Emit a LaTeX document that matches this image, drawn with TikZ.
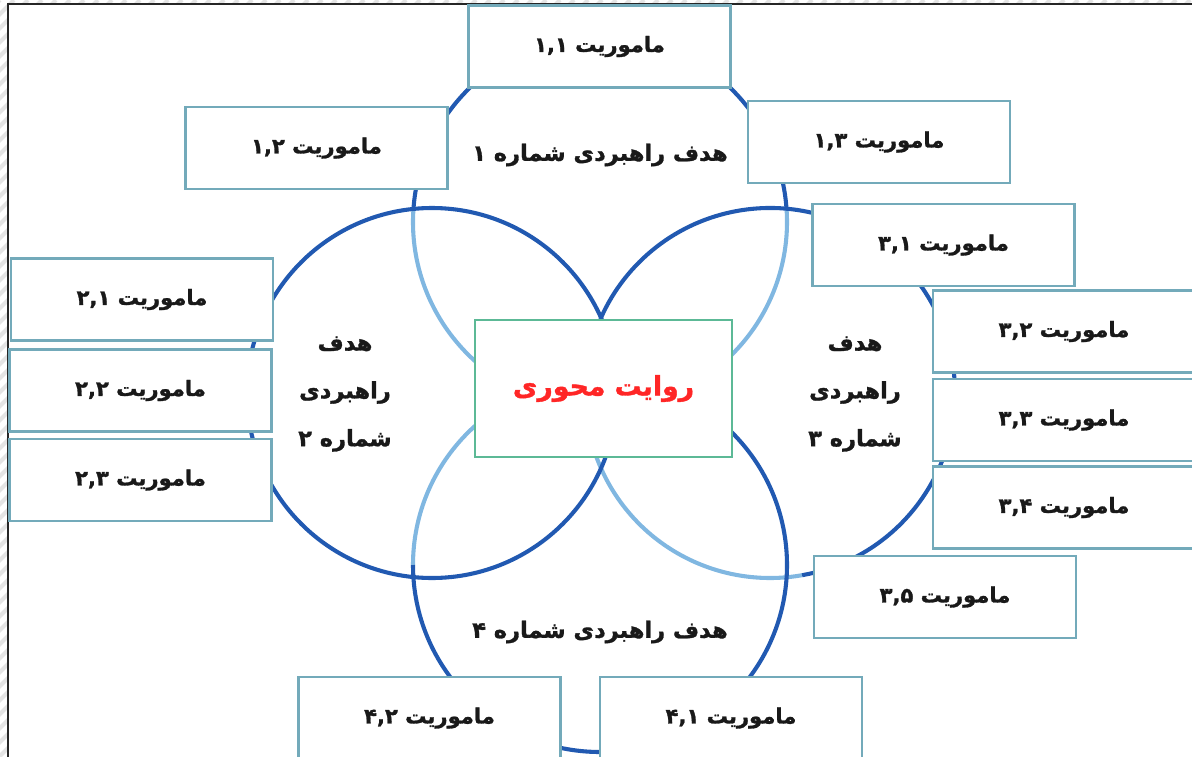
\documentclass[tikz,border=0pt]{standalone}
\usepackage{fontspec}
\newfontfamily\fafont[Script=Arabic,FakeBold=1.3]{DejaVu Sans Bold}
\TeXXeTstate=1
\newcommand{\fa}[1]{{\fafont\beginR #1\endR}}
\definecolor{darkring}{RGB}{33,89,177}
\definecolor{lightring}{RGB}{128,183,225}
\definecolor{boxedge}{RGB}{115,170,186}
\definecolor{coreedge}{RGB}{92,185,150}
\definecolor{corered}{RGB}{255,38,38}
\definecolor{hatchgray}{RGB}{228,228,228}
\begin{document}
\begin{tikzpicture}[x=0.025cm,y=-0.025cm,
  mission/.style={draw=boxedge,line width=1.8pt,fill=white,minimum width=6.55cm,minimum height=2.05cm,inner sep=0pt,font=\fontsize{15}{18}\selectfont,text=black!90},
  core/.style={draw=coreedge,line width=1.8pt,fill=white,minimum width=6.42cm,minimum height=3.42cm,inner sep=0pt,font=\fontsize{19}{23}\selectfont,text=corered},
  goal/.style={align=center,inner sep=0pt,font=\fontsize{16}{34}\selectfont,text=black!90},
  ring/.style={line width=2.9pt}]
\useasboundingbox (0,0) rectangle (1192,757);
\clip (0,0) rectangle (1192,757);
% page margin
\begin{scope}
\clip (0,0) rectangle (1192,4) (0,0) rectangle (8,757);
\foreach \s in {0,14,...,1960}
  \draw[hatchgray,line width=3pt] (\s-800,800) -- (\s,0);
\end{scope}
\draw[black!85,line width=0.8pt] (8,757) -- (8,4) -- (1192,4);
% four rings
\coordinate (c1) at (600,222);
\coordinate (c2) at (432,393);
\coordinate (c3) at (770,393);
\coordinate (c4) at (600,565);
\draw[ring,lightring] (c1) ++(-176:187) arc[start angle=-176,end angle=-364,radius=187];
\draw[ring,lightring] (c3) ++(-156:185) arc[start angle=-156,end angle=-280,radius=185];
\draw[ring,lightring] (c4) ++(-90:187) arc[start angle=-90,end angle=-180,radius=187];
\draw[ring,darkring] (c1) ++(-4:187) arc[start angle=-4,end angle=-176,radius=187];
\draw[ring,darkring] (c2) circle[radius=185];
\draw[ring,darkring] (c3) ++(-280:185) arc[start angle=-280,end angle=-516,radius=185];
\draw[ring,darkring] (c4) ++(-180:187) arc[start angle=-180,end angle=-450,radius=187];
% goals
\node[goal] (g1) at (600,155) {\fa{هدف راهبردی شماره ۱}};
\node[goal] (g2) at (345,394) {\fa{هدف}\\\fa{راهبردی}\\\fa{شماره ۲}};
\node[goal] (g3) at (855,394) {\fa{هدف}\\\fa{راهبردی}\\\fa{شماره ۳}};
\node[goal] (g4) at (600,632) {\fa{هدف راهبردی شماره ۴}};
% missions
\node[mission] (m11) at (599.5,46.5) {\fa{ماموریت \beginL۱,۱\endL}};
\node[mission] (m12) at (316.5,148) {\fa{ماموریت \beginL۱,۲\endL}};
\node[mission] (m13) at (879,142) {\fa{ماموریت \beginL۱,۳\endL}};
\node[mission] (m21) at (142,299.5) {\fa{ماموریت \beginL۲,۱\endL}};
\node[mission] (m22) at (140.5,390.5) {\fa{ماموریت \beginL۲,۲\endL}};
\node[mission] (m23) at (140.5,480) {\fa{ماموریت \beginL۲,۳\endL}};
\node[mission] (m31) at (943.5,245) {\fa{ماموریت \beginL۳,۱\endL}};
\node[mission] (m32) at (1064,331.5) {\fa{ماموریت \beginL۳,۲\endL}};
\node[mission] (m33) at (1064,420) {\fa{ماموریت \beginL۳,۳\endL}};
\node[mission] (m34) at (1064,507.5) {\fa{ماموریت \beginL۳,۴\endL}};
\node[mission] (m35) at (945,597) {\fa{ماموریت \beginL۳,۵\endL}};
\node[mission] (m41) at (731,718) {\fa{ماموریت \beginL۴,۱\endL}};
\node[mission] (m42) at (429.5,718) {\fa{ماموریت \beginL۴,۲\endL}};
% core narrative
\node[core] (narr) at (603.5,388.5) {\fa{روایت محوری}};
\end{tikzpicture}
\end{document}
